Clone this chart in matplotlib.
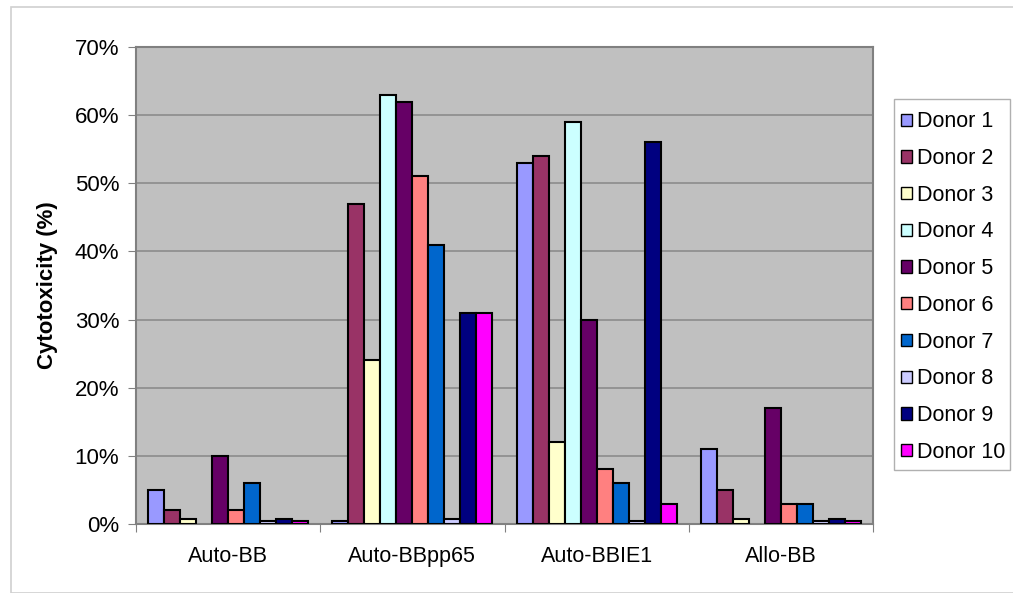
import numpy as np
import matplotlib
matplotlib.use("Agg")
import matplotlib.pyplot as plt
from matplotlib.patches import Rectangle, Patch
from matplotlib.ticker import PercentFormatter, FixedLocator

plt.rcParams['font.family'] = ['Liberation Sans', 'DejaVu Sans']

# cytotoxicity (%) per donor, one list per effector group; nan = not tested
categories = ['Auto-BB', 'Auto-BBpp65', 'Auto-BBIE1', 'Allo-BB']
donors = ['Donor %d' % i for i in range(1, 11)]
auto_bb = [5, 2, 0.8, np.nan, 10, 2, 6, 0.5, 0.8, 0.5]
auto_bb_pp65 = [0.5, 47, 24, 63, 62, 51, 41, 0.8, 31, 31]
auto_bb_ie1 = [53, 54, 12, 59, 30, 8, 6, 0.5, 56, 3]
allo_bb = [11, 5, 0.8, np.nan, 17, 3, 3, 0.5, 0.8, 0.5]
colors = ['#9999FF', '#993366', '#FFFFCC', '#CCFFFF', '#660066',
          '#FF8080', '#0066CC', '#CCCCFF', '#000080', '#FF00FF']

groups = np.array([auto_bb, auto_bb_pp65, auto_bb_ie1, allo_bb])

W, H = 1013, 593
fig = plt.figure(figsize=(W / 100, H / 100), dpi=100)

# light frame around the whole chart
fig.patches.append(Rectangle((11 / W, 0), 1.2, 1 - 7 / H, transform=fig.transFigure,
                             fill=False, edgecolor='#d0d0d0', lw=1.2, zorder=0))

ax = fig.add_axes([136 / W, 1 - 524 / H, (873 - 136) / W, (524 - 47) / H])
ax.set_facecolor('#C0C0C0')

n = len(donors)
w = 1 / (n + 1.5)
x0 = np.arange(len(categories)) + 0.75 * w
for j in range(n):
    ax.bar(x0 + j * w, groups[:, j], width=w, align='edge', color=colors[j],
           edgecolor='black', linewidth=1.5, zorder=3, label=donors[j])

ax.set_xlim(0, len(categories))
ax.set_ylim(0, 70)
ax.yaxis.set_major_locator(FixedLocator(np.arange(0, 71, 10)))
ax.yaxis.set_major_formatter(PercentFormatter(decimals=0))
ax.grid(axis='y', color='#8c8c8c', lw=1.2, zorder=1)

ax.set_xticks(np.arange(len(categories) + 1))
ax.set_xticklabels([])
ax.set_xticks(np.arange(len(categories)) + 0.5, minor=True)
ax.set_xticklabels(categories, minor=True)
ax.tick_params(axis='x', which='minor', length=0, pad=16, labelsize=15.5)
ax.tick_params(axis='x', which='major', length=6, color='#808080', direction='out')
ax.tick_params(axis='y', length=6, color='#808080', direction='out', labelsize=16, pad=6)

for s in ax.spines.values():
    s.set_color('#808080')
    s.set_linewidth(1.5)

ax.set_ylabel('Cytotoxicity (%)', fontsize=16, fontweight='bold', labelpad=12)

# legend box on the right
fig.patches.append(Rectangle((894 / W, 1 - 470 / H), (1010 - 894) / W, (470 - 99) / H,
                             transform=fig.transFigure, facecolor='white',
                             edgecolor='#b0b0b0', lw=1.0, zorder=1))
handles = [Patch(facecolor=c, edgecolor='black', lw=1.0) for c in colors]
fig.legend(handles, donors, loc='upper left', bbox_to_anchor=(897 / W, 1 - 107 / H),
           frameon=False, fontsize=15.5, handlelength=0.5, handleheight=0.5,
           handletextpad=0.25, labelspacing=0.73, borderaxespad=0, borderpad=0.2)

fig.savefig('out.png', dpi=100)
